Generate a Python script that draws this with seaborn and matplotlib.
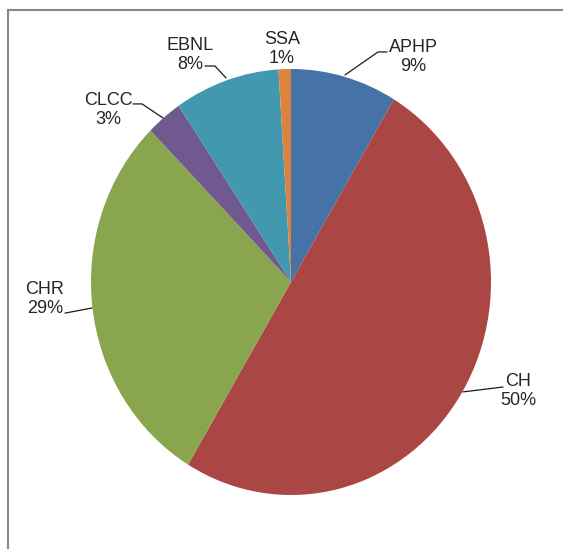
import matplotlib
matplotlib.use('Agg')
import matplotlib.pyplot as plt
import matplotlib.patches as mpatches
import seaborn as sns

# data (clockwise from 12 o'clock)
categories = ['APHP', 'CH', 'CHR', 'CLCC', 'EBNL', 'SSA']
shares = [8.6, 50.0, 29.0, 2.9, 8.5, 1.0]
pct_labels = ['9%', '50%', '29%', '3%', '8%', '1%']
colors = ['#4572A7', '#AA4643', '#89A54E', '#71588F', '#4198AF', '#DB843D']

# label layout in pie data units (radius = 1): text centre + leader line points
label_pos = {
    'APHP': (0.61, 1.056),
    'CH': (1.135, -0.512),
    'CHR': (-1.23, -0.080),
    'CLCC': (-0.915, 0.808),
    'EBNL': (-0.505, 1.066),
    'SSA': (-0.045, 1.095),
}
leaders = {
    'APHP': [(0.27, 0.972), (0.435, 1.080), (0.48, 1.080)],
    'CH': [(0.86, -0.516), (1.06, -0.493)],
    'CHR': [(-0.995, -0.122), (-1.13, -0.146)],
    'CLCC': [(-0.64, 0.770), (-0.745, 0.836), (-0.79, 0.836)],
    'EBNL': [(-0.325, 0.958), (-0.38, 1.014), (-0.43, 1.014)],
    'SSA': [],
}

sns.set_theme(style='white')
plt.rcParams['font.family'] = ['Liberation Sans', 'DejaVu Sans']

W, H = 563, 549
fig = plt.figure(figsize=(W / 100, H / 100), dpi=100)
fig.patch.set_facecolor('white')

# pie area in pixels (slightly taller than wide, as in the reference)
cx, cy, rx, ry = 291, 282, 200, 213
ax = fig.add_axes([(cx - rx) / W, 1 - (cy + ry) / H, 2 * rx / W, 2 * ry / H])

pal = sns.color_palette(colors)
ax.pie(shares, colors=pal, startangle=90, counterclock=False,
       wedgeprops=dict(linewidth=0))
ax.set_aspect('auto')
ax.set_xlim(-1, 1)
ax.set_ylim(-1, 1)
ax.axis('off')

for cat, pct in zip(categories, pct_labels):
    x, y = label_pos[cat]
    ax.text(x, y, f'{cat}\n{pct}', ha='center', va='center', fontsize=13,
            color='#262626', linespacing=1.15, clip_on=False)
    pts = leaders[cat]
    if pts:
        xs = [p[0] for p in pts]
        ys = [p[1] for p in pts]
        ax.plot(xs, ys, color='#1a1a1a', lw=0.9, clip_on=False)

# chart frame: only top and left edges are visible in the crop
frame = mpatches.Rectangle((8 / W, -0.2), 1.2, 1 - 10 / H + 0.2,
                           transform=fig.transFigure, fill=False,
                           edgecolor='#888888', lw=1.5)
fig.add_artist(frame)

fig.savefig('out.png', dpi=100)
